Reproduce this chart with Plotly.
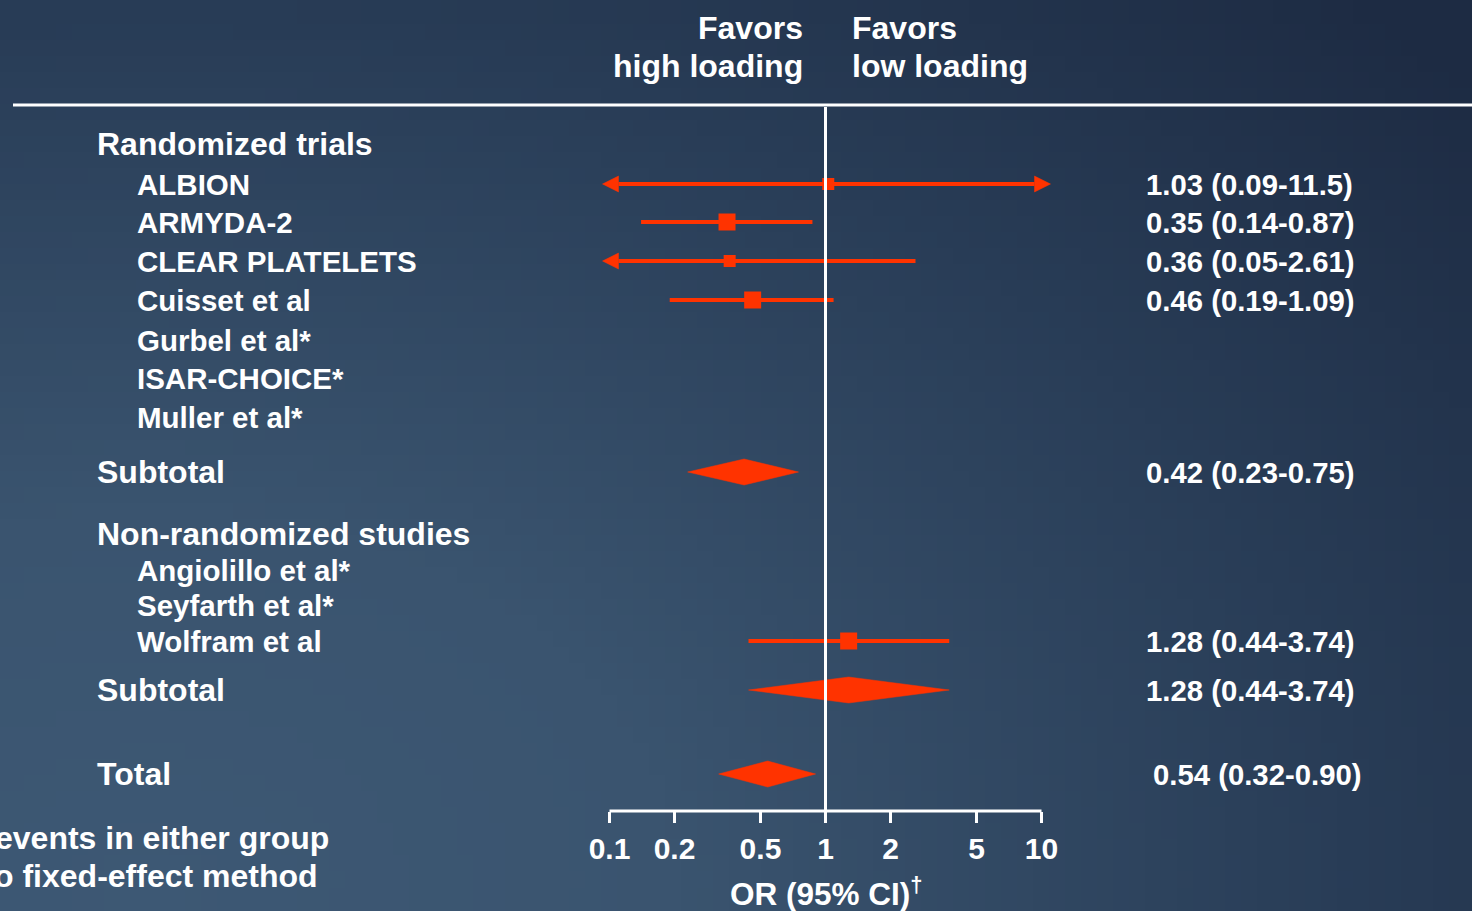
import base64
import struct
import zlib

import numpy as np
import plotly.graph_objects as go

# ---------------- data ----------------
labels = [
    "Randomized trials", "ALBION", "ARMYDA-2", "CLEAR PLATELETS", "Cuisset et al",
    "Gurbel et al*", "ISAR-CHOICE*", "Muller et al*", "Subtotal",
    "Non-randomized studies", "Angiolillo et al*", "Seyfarth et al*", "Wolfram et al",
    "Subtotal", "Total",
]
row_kind = [
    "header", "study", "study", "study", "study",
    "study", "study", "study", "pooled",
    "header", "study", "study", "study",
    "pooled", "pooled",
]
or_est = [None, 1.03, 0.35, 0.36, 0.46, None, None, None, 0.42,
          None, None, None, 1.28, 1.28, 0.54]
ci_low = [None, 0.09, 0.14, 0.05, 0.19, None, None, None, 0.23,
          None, None, None, 0.44, 0.44, 0.32]
ci_high = [None, 11.5, 0.87, 2.61, 1.09, None, None, None, 0.75,
           None, None, None, 3.74, 3.74, 0.90]
value_text = ["", "1.03 (0.09-11.5)", "0.35 (0.14-0.87)", "0.36 (0.05-2.61)",
              "0.46 (0.19-1.09)", "", "", "", "0.42 (0.23-0.75)",
              "", "", "", "1.28 (0.44-3.74)", "1.28 (0.44-3.74)", "0.54 (0.32-0.90)"]
tick_vals = [0.1, 0.2, 0.5, 1, 2, 5, 10]
tick_text = ["0.1", "0.2", "0.5", "1", "2", "5", "10"]
axis_min, axis_max = 0.1, 10
header_left = ["Favors", "high loading"]
header_right = ["Favors", "low loading"]
x_title = "OR (95% CI)<sup>†</sup>"
footnotes = ["events in either group", "o fixed-effect method"]

# ---------------- layout / style ----------------
W, H = 1472, 911
X_ONE = 825.5        # pixel of OR = 1
DECADE = 216         # pixels per decade
AXIS_Y = 811
ROW_Y = [144, 184, 222, 261, 300, 340, 378, 417, 472, 534, 570, 605, 641, 690, 774]
MARKER_SIZE = [0, 12, 17, 12, 17, 0, 0, 0, 0, 0, 0, 0, 17, 0, 0]
VALUE_X = [1144] * 14 + [1151]
RED = "#FF3300"
FONT = "Liberation Sans, Arial, Helvetica, sans-serif"
DIAMOND_HALF = 13
ARROW_OUT = 7        # px the arrow tip extends past the axis end
ARROW_LEN = 16       # px
ARROW_HALF = 8       # px


def fnt(size):
    return dict(family=FONT, size=size, color="white", weight="bold")


def paper_x(px):
    return px / W


def shift(value, px):
    """Move a data value on the log axis by a number of pixels."""
    return 10 ** (np.log10(value) + px / DECADE)


# ---------------- gradient background (PNG built in memory) ----------------
def gradient_png(w, h):
    stops_t = [0.0, 0.3, 0.7, 1.0]
    stops_c = np.array([[61, 88, 116], [58, 84, 111], [40, 60, 86], [29, 43, 67]], float)
    rows = []
    for j in range(h):
        py = (j + 0.5) / h * H
        row = bytearray([0])
        for i in range(w):
            px = (i + 0.5) / w * W
            d = np.hypot((px - 150) / 1.4, py - 880) / 1241.0
            d = min(max(d, 0.0), 1.0)
            c = [np.interp(d, stops_t, stops_c[:, k]) for k in range(3)]
            row += bytes(int(round(v)) for v in c)
        rows.append(bytes(row))
    raw = b"".join(rows)

    def chunk(tag, data):
        return (struct.pack(">I", len(data)) + tag + data +
                struct.pack(">I", zlib.crc32(tag + data) & 0xFFFFFFFF))

    png = b"\x89PNG\r\n\x1a\n"
    png += chunk(b"IHDR", struct.pack(">IIBBBBB", w, h, 8, 2, 0, 0, 0))
    png += chunk(b"IDAT", zlib.compress(raw, 9))
    png += chunk(b"IEND", b"")
    return "data:image/png;base64," + base64.b64encode(png).decode()


fig = go.Figure()
annotations = []


def add_arrowhead(tip, direction, y):
    base = shift(tip, -direction * ARROW_LEN)
    fig.add_trace(go.Scatter(
        x=[tip, base, base, tip], y=[y, y - ARROW_HALF, y + ARROW_HALF, y],
        mode="lines", fill="toself", fillcolor=RED, line=dict(color=RED, width=0.5),
        hoverinfo="skip", showlegend=False))
    return base


# ---------------- study rows ----------------
for i, lab in enumerate(labels):
    y = ROW_Y[i]
    kind = row_kind[i]
    indent = 135 if kind == "study" else 95
    size = 29.5 if kind == "study" else 32
    annotations.append(dict(x=paper_x(indent), y=y, xref="paper", yref="y", text=lab,
                            showarrow=False, xanchor="left", yanchor="middle", font=fnt(size)))
    if value_text[i]:
        annotations.append(dict(x=paper_x(VALUE_X[i]), y=y, xref="paper", yref="y",
                                text=value_text[i], showarrow=False, xanchor="left",
                                yanchor="middle", font=fnt(29.3)))
    if or_est[i] is None:
        continue
    lo, est, hi = ci_low[i], or_est[i], ci_high[i]
    if kind == "pooled":
        fig.add_trace(go.Scatter(
            x=[lo, est, hi, est, lo],
            y=[y, y - DIAMOND_HALF, y, y + DIAMOND_HALF, y],
            mode="lines", fill="toself", fillcolor=RED,
            line=dict(color=RED, width=0.5), hoverinfo="skip", showlegend=False))
        continue
    x0, x1 = lo, hi
    if lo < axis_min:
        x0 = add_arrowhead(shift(axis_min, -ARROW_OUT), -1, y)
    if hi > axis_max:
        x1 = add_arrowhead(shift(axis_max, ARROW_OUT + 2), 1, y)
    fig.add_trace(go.Scatter(x=[x0, x1], y=[y, y], mode="lines",
                             line=dict(color=RED, width=4),
                             hoverinfo="skip", showlegend=False))
    fig.add_trace(go.Scatter(x=[est], y=[y], mode="markers",
                             marker=dict(symbol="square", size=MARKER_SIZE[i], color=RED,
                                         line=dict(width=0)),
                             hoverinfo="skip", showlegend=False))

# ---------------- header / footer text ----------------
for k, t in enumerate(header_left):
    annotations.append(dict(x=paper_x(805), y=[28, 66][k], xref="paper", yref="y", text=t,
                            showarrow=False, xanchor="right", yanchor="middle", font=fnt(32)))
for k, t in enumerate(header_right):
    annotations.append(dict(x=paper_x(850), y=[28, 66][k], xref="paper", yref="y", text=t,
                            showarrow=False, xanchor="left", yanchor="middle", font=fnt(32)))
annotations.append(dict(x=paper_x(826), y=892, xref="paper", yref="y", text=x_title,
                        showarrow=False, xanchor="center", yanchor="middle", font=fnt(31.5)))
for k, t in enumerate(footnotes):
    annotations.append(dict(x=paper_x([331, 320][k]), y=[838, 876][k], xref="paper", yref="y",
                            text=t, showarrow=False, xanchor="right", yanchor="middle",
                            font=fnt(32)))

# ---------------- lines ----------------
shapes = [
    dict(type="line", xref="paper", yref="y", x0=paper_x(13), x1=1, y0=105, y1=105,
         line=dict(color="white", width=3), layer="above"),
    dict(type="line", xref="x", yref="y", x0=1, x1=1, y0=107, y1=AXIS_Y + 11,
         line=dict(color="white", width=3), layer="above"),
    dict(type="line", xref="x", yref="y", x0=axis_min, x1=axis_max, y0=AXIS_Y, y1=AXIS_Y,
         line=dict(color="white", width=3), layer="above"),
]

fig.update_layout(
    width=W, height=H,
    margin=dict(l=0, r=0, t=0, b=0),
    paper_bgcolor="#2c405a",
    plot_bgcolor="rgba(0,0,0,0)",
    showlegend=False,
    annotations=annotations,
    shapes=shapes,
    images=[dict(source=gradient_png(92, 57), xref="paper", yref="paper", x=0, y=1,
                 sizex=1, sizey=1, sizing="stretch", xanchor="left", yanchor="top",
                 layer="below")],
    xaxis=dict(type="log", range=[(0 - X_ONE) / DECADE, (W - X_ONE) / DECADE],
               showgrid=False, zeroline=False, showline=False,
               tickmode="array", tickvals=tick_vals, ticktext=tick_text,
               ticks="outside", ticklen=11, tickwidth=3, tickcolor="white",
               tickfont=fnt(30), anchor="free", position=(H - AXIS_Y) / H,
               fixedrange=True),
    yaxis=dict(range=[H, 0], visible=False, showgrid=False, zeroline=False,
               fixedrange=True),
)

fig.write_html("out.html")
